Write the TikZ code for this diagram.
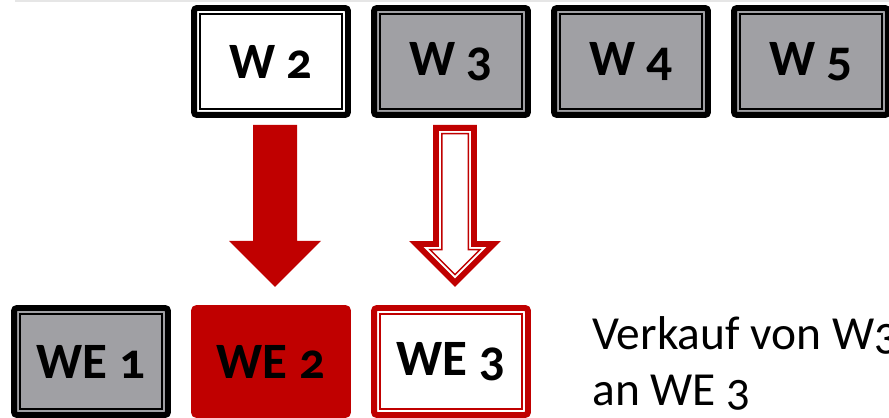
\documentclass[tikz,border=0pt]{standalone}
\usepackage{fontspec}
\setmainfont{Carlito}[Numbers=OldStyle]
\usetikzlibrary{calc}
\definecolor{wred}{HTML}{C00000}
\definecolor{wgrey}{HTML}{A0A0A4}
\definecolor{rule}{HTML}{E6E6E6}
\tikzset{
  box/.style={draw=black, line width=3.4pt, rounded corners=1.7pt,
    minimum width=3.08cm, minimum height=2.14cm, inner sep=0pt, outer sep=0pt,
    font=\bfseries\fontsize{29}{30}\selectfont},
  inner/.style={draw=black, line width=0.85pt},
  txt/.style={font=\fontsize{27}{31}\selectfont, anchor=base west, inner sep=0pt},
  % arrow outline, #1 = inset from the outer edge
  pfeil/.style={insert path={({-22+#1},{#1}) -- ({22-#1},{#1}) -- ({22-#1},{116+#1})
    -- ({46-2.414*#1},{116+#1}) -- (0,{162-1.414*#1}) -- ({-46+2.414*#1},{116+#1})
    -- ({-22+#1},{116+#1}) -- cycle}},
}

\begin{document}
\begin{tikzpicture}[x=0.02cm, y=-0.02cm]
  \useasboundingbox (0,0) rectangle (889,418);
  \clip (0,0) rectangle (889,418);
  \draw[rule, line width=1.1pt] (15,1) -- (889,1);

  % goods on top
  \node[box, fill=white] (w2) at (271,61.5) {W 2};
  \node[box, fill=wgrey] (w3) at (451,61.5) {W 3};
  \node[box, fill=wgrey] (w4) at (631,61.5) {W 4};
  \node[box, fill=wgrey] (w5) at (811,61.5) {W 5};

  % buyers below
  \node[box, fill=wgrey] (we1) at (91,361.5) {WE 1};
  \node[box, fill=wred, draw=wred] (we2) at (271,361.5) {WE 2};
  \node[box, fill=white, draw=wred] (we3) at (451,361.5) {WE 3};

  \foreach \n in {w2,w3,w4,w5,we1}
    \draw[inner] ([shift={(5.75,5.75)}]\n.north west) rectangle ([shift={(-5.75,-5.75)}]\n.south east);
  \draw[inner, draw=wred] ([shift={(5.75,5.75)}]we3.north west) rectangle ([shift={(-5.75,-5.75)}]we3.south east);

  % solid arrow W2 -> WE2
  \begin{scope}[shift={($(w2.south)+(4,10)$)}]
    \fill[wred] [pfeil=0];
  \end{scope}
  % hollow arrow W3 -> WE3
  \begin{scope}[shift={($(w3.south)+(4,10)$)}]
    \draw[wred, line width=3.4pt, fill=white] [pfeil=3];
    \draw[wred, line width=0.85pt] [pfeil=8.75];
  \end{scope}

  \node[txt] (t1) at (592,350) {Verkauf von W3};
  \node[txt] (t2) at (592,405) {an WE 3};
\end{tikzpicture}
\end{document}
